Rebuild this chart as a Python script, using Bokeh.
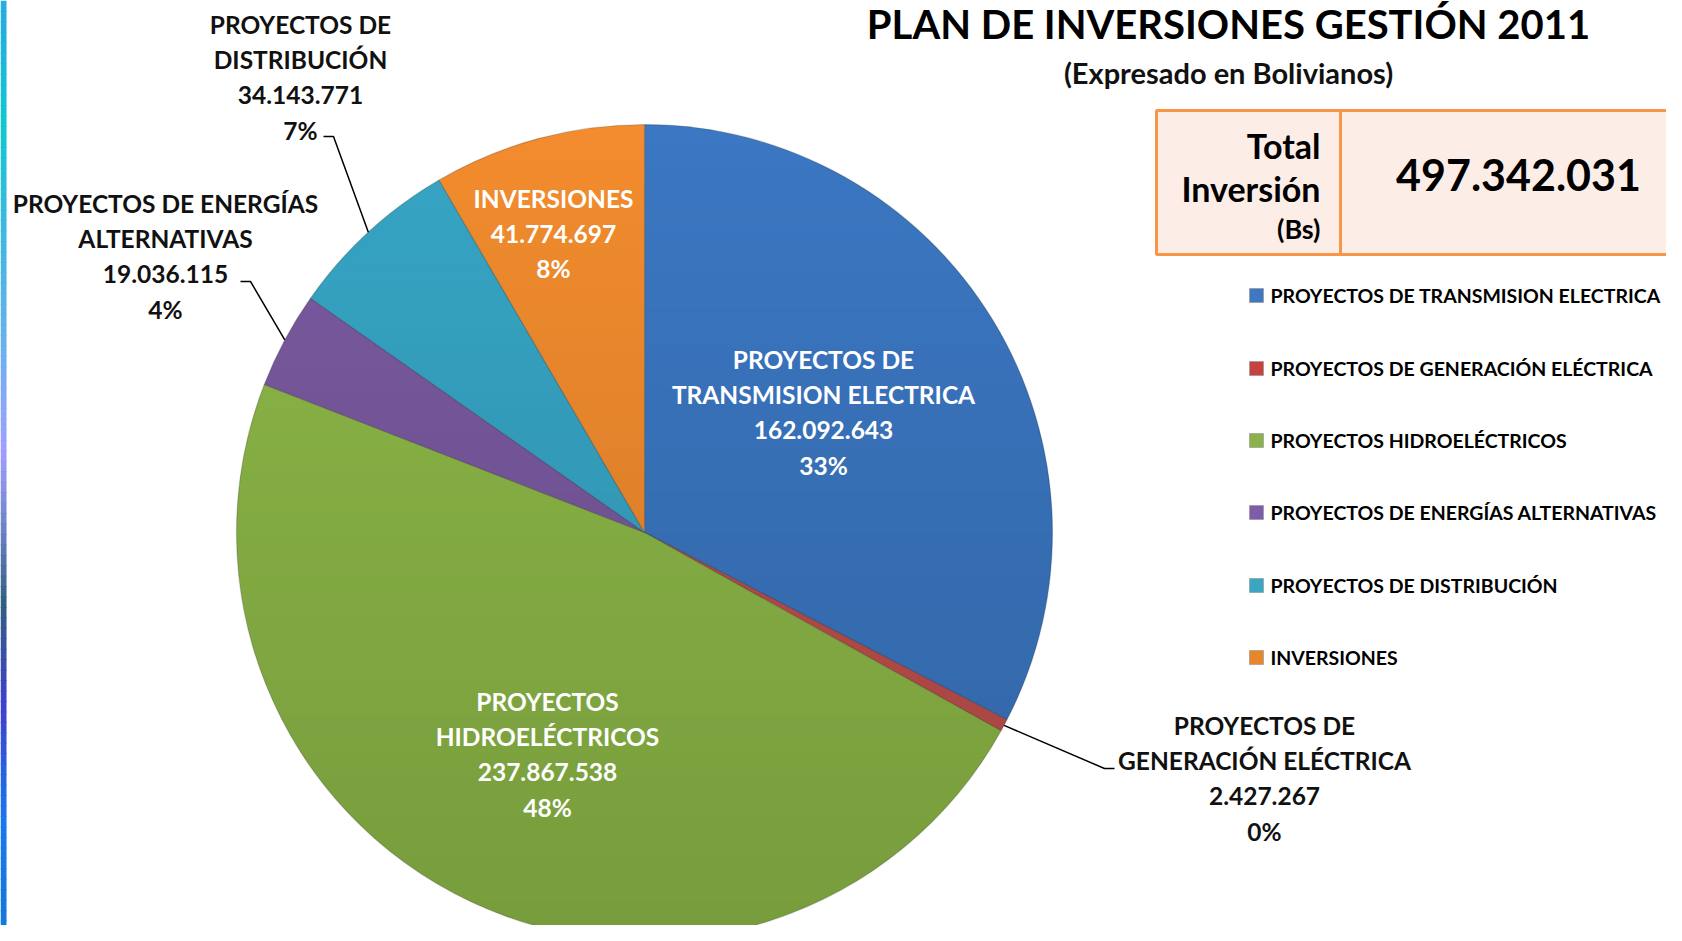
from math import pi
import numpy as np
from bokeh.plotting import figure
from bokeh.models import Range1d
from bokeh.embed import file_html
from bokeh.resources import INLINE
from bokeh.core.properties import value

# ---------------- data ----------------
categories = [
    "PROYECTOS DE TRANSMISION ELECTRICA",
    "PROYECTOS DE GENERACIÓN ELÉCTRICA",
    "PROYECTOS HIDROELÉCTRICOS",
    "PROYECTOS DE ENERGÍAS ALTERNATIVAS",
    "PROYECTOS DE DISTRIBUCIÓN",
    "INVERSIONES",
]
label_names = [
    ["PROYECTOS DE", "TRANSMISION ELECTRICA"],
    ["PROYECTOS DE", "GENERACIÓN ELÉCTRICA"],
    ["PROYECTOS", "HIDROELÉCTRICOS"],
    ["PROYECTOS DE ENERGÍAS", "ALTERNATIVAS"],
    ["PROYECTOS DE", "DISTRIBUCIÓN"],
    ["INVERSIONES"],
]
values = [162092643, 2427267, 237867538, 19036115, 34143771, 41774697]
total_value = 497342031
title = "PLAN DE INVERSIONES GESTIÓN 2011"
subtitle = "(Expresado en Bolivianos)"
total_lines = ["Total", "Inversión", "(Bs)"]

# ---------------- style / layout ----------------
colors = ["#3B77C2", "#C0504D", "#8DB848", "#7A5AA0", "#37A5C5", "#F28C2E"]
legend_colors = ["#3F78C0", "#C4423F", "#8CB04C", "#7E5DA8", "#3AA6C2", "#E8862E"]
FONT = "Lato"
W, H = 1666, 925
TOP = 941  # screen height of reference

def sy(Y):
    return TOP - Y

cx, cY, R = 644, 532, 408
cy = sy(cY)

p = figure(width=W, height=H, x_range=Range1d(0, W), y_range=Range1d(TOP - H, TOP),
           output_backend="svg", toolbar_location=None, min_border=0)
p.axis.visible = False
p.grid.visible = False
p.outline_line_color = None
p.background_fill_color = "white"
p.border_fill_color = "white"

# left decorative gradient strip
stops_pos = [0.0, 0.03, 0.13, 0.25, 0.38, 0.48, 0.57, 0.64, 0.75, 0.87, 1.0]
stops_col = ["#28AEE0", "#22B0E0", "#10C8D0", "#40B8E0", "#70B0F0", "#A0A0FF",
             "#6880C0", "#306080", "#4040D0", "#1878F0", "#1478D8"]
def hex2rgb(h):
    return np.array([int(h[i:i + 2], 16) for i in (1, 3, 5)], dtype=float)
n_strip = 90
sq_l, sq_r, sq_t, sq_b, sq_c = [], [], [], [], []
for k in range(n_strip):
    f = (k + 0.5) / n_strip
    rgb = np.array([np.interp(f, stops_pos, [hex2rgb(c)[j] for c in stops_col]) for j in range(3)])
    sq_c.append("#%02x%02x%02x" % tuple(int(v) for v in rgb))
    sq_l.append(0); sq_r.append(6)
    sq_t.append(sy(TOP * k / n_strip)); sq_b.append(sy(TOP * (k + 1) / n_strip) - 1)
p.quad(left=sq_l, right=sq_r, top=sq_t, bottom=sq_b, fill_color=sq_c, line_color=None)

# pie
total = sum(values)
fracs = [v / total for v in values]
cum = np.concatenate([[0], np.cumsum(fracs)])
starts = [pi / 2 - 2 * pi * cum[i + 1] for i in range(len(values))]
ends = [pi / 2 - 2 * pi * cum[i] for i in range(len(values))]
p.wedge(x=cx, y=cy, radius=R, start_angle=starts, end_angle=ends, fill_color=colors,
        line_color="#000000", line_alpha=0.18, line_width=1.2)

# soft vertical shading overlay (darker toward bottom)
nb = 40
bxs, bys, balpha = [], [], []
for k in range(nb):
    y0 = cy + R - 2 * R * k / nb
    y1 = cy + R - 2 * R * (k + 1) / nb
    ys = np.linspace(y0, y1, 12)
    xr = cx + np.sqrt(np.clip(R ** 2 - (ys - cy) ** 2, 0, None))
    xl = cx - np.sqrt(np.clip(R ** 2 - (ys - cy) ** 2, 0, None))
    bxs.append(list(xr) + list(xl[::-1]))
    bys.append(list(ys) + list(ys[::-1]))
    balpha.append(0.0 + 0.15 * k / (nb - 1))
p.patches(xs=bxs, ys=bys, fill_color="black", fill_alpha=balpha, line_color=None)

def fmt(v):
    return f"{v:,}".replace(",", ".")

pcts = [f"{round(100 * f)}%" for f in fracs]

# data labels: (center x, center Y of block)
label_pos = [(823, 412), (1264, 778), (547, 754), (165, 256), (300, 77), (553, 233)]
label_col = ["white", "#111111", "white", "#111111", "#111111", "white"]
LS = 35.3
for i in range(len(values)):
    lines = label_names[i] + [fmt(values[i]), pcts[i]]
    n = len(lines)
    lx, lY = label_pos[i]
    Ys = [lY + (j - (n - 1) / 2) * LS for j in range(n)]
    p.text(x=[lx] * n, y=[sy(Y) for Y in Ys], text=lines, text_font=value(FONT),
           text_font_style="bold", text_font_size="24.5px", text_color=label_col[i],
           text_align="center", text_baseline="middle")

# leader lines for outside labels (from slice edge at mid-angle)
leaders = {1: [(1104, 768), (1114, 768)], 3: [(250, 281), (240, 281)], 4: [(333, 136), (323, 136)]}
for i, pts in leaders.items():
    mid = (cum[i] + cum[i + 1]) / 2
    ang = pi / 2 - 2 * pi * mid
    ex, ey = cx + R * np.cos(ang), cy + R * np.sin(ang)
    xs = [ex] + [q[0] for q in pts]
    ys = [ey] + [sy(q[1]) for q in pts]
    p.line(xs, ys, line_color="black", line_width=1.5)

# title
p.text(x=[1228], y=[sy(23)], text=[title], text_font=value(FONT), text_font_style="bold",
       text_font_size="40px", text_color="black", text_align="center", text_baseline="middle")
p.text(x=[1228], y=[sy(72)], text=[subtitle], text_font=value(FONT), text_font_style="bold",
       text_font_size="29px", text_color="#111111", text_align="center", text_baseline="middle")

# total box
p.quad(left=[1156], right=[1700], top=[sy(110)], bottom=[sy(254)], fill_color="#FCEDE7",
       line_color="#F79646", line_width=3)
p.line([1340, 1340], [sy(110), sy(254)], line_color="#F79646", line_width=3)
p.text(x=[1320, 1320], y=[sy(145), sy(188)], text=total_lines[:2], text_font=value(FONT),
       text_font_style="bold", text_font_size="34px", text_color="black",
       text_align="right", text_baseline="middle")
p.text(x=[1320], y=[sy(228)], text=[total_lines[2]], text_font=value(FONT),
       text_font_style="bold", text_font_size="27px", text_color="black",
       text_align="right", text_baseline="middle")
p.text(x=[1518], y=[sy(174)], text=[fmt(total_value)], text_font=value(FONT),
       text_font_style="bold", text_font_size="43px", text_color="black",
       text_align="center", text_baseline="middle")

# legend
leg_Y = [295, 368, 440, 512, 585, 657]
p.rect(x=[1256] * 6, y=[sy(Y) for Y in leg_Y], width=14, height=14, fill_color=legend_colors,
       line_color="#888888", line_alpha=0.5, line_width=1)
p.text(x=[1270] * 6, y=[sy(Y) for Y in leg_Y], text=categories, text_font=value(FONT),
       text_font_style="bold", text_font_size="19.5px", text_color="black",
       text_align="left", text_baseline="middle")

open("out.html", "w").write(file_html(p, INLINE))
